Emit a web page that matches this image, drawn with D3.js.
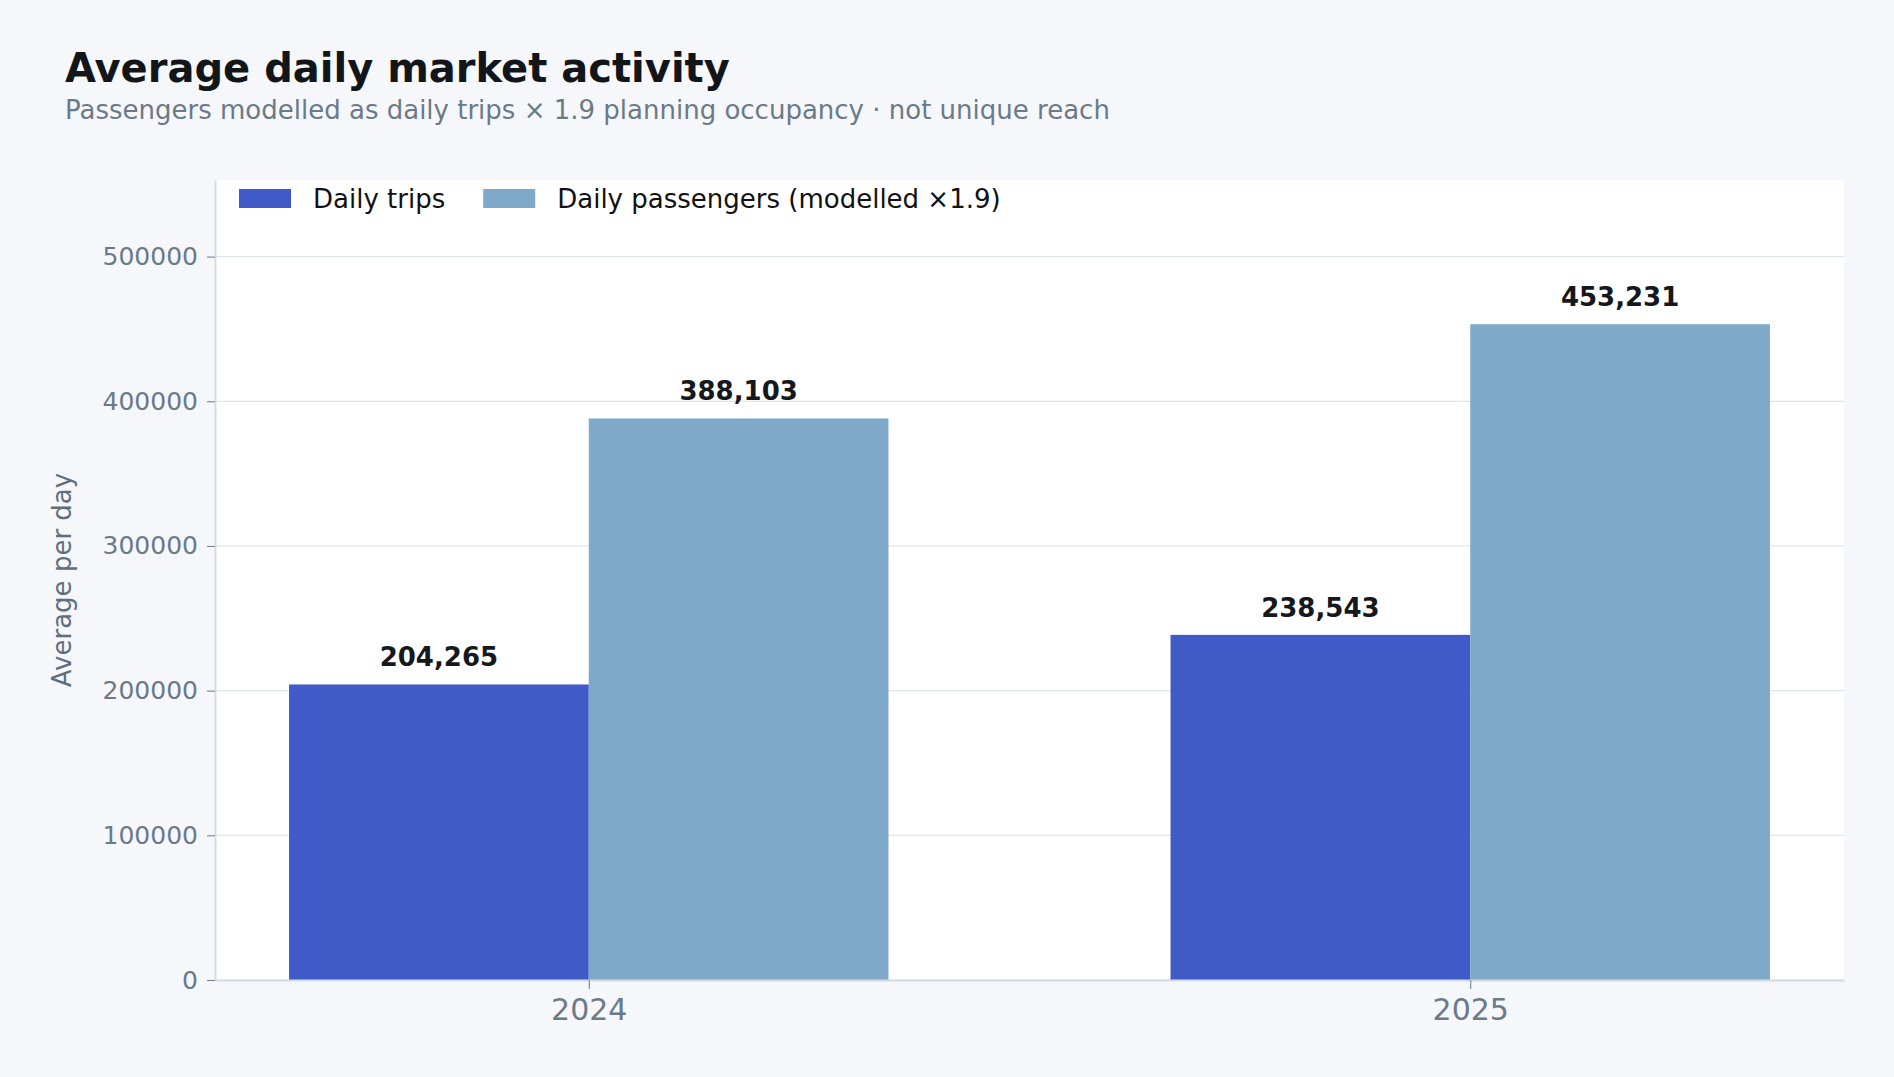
<!DOCTYPE html>
<html>
<head>
<meta charset="utf-8">
<script src="https://cdn.jsdelivr.net/npm/d3@7"></script>
<style>
  html, body { margin: 0; padding: 0; background: #f5f7fa; }
  svg { display: block; font-family: "DejaVu Sans", sans-serif; }
</style>
</head>
<body>
<div id="chart"></div>
<script>
// data
const years = ["2024", "2025"];
const seriesNames = ["Daily trips", "Daily passengers (modelled ×1.9)"];
const dailyTrips = [204265, 238543];
const dailyPassengers = [388103, 453231];
const yTicks = [0, 100000, 200000, 300000, 400000, 500000];

const colors = ["#405bc8", "#7ea9c8"];

const W = 1894, H = 1077;
const margin = { top: 180, right: 50, bottom: 97, left: 215 };
const width = W - margin.left - margin.right,
      height = H - margin.top - margin.bottom;

const svg = d3.select("#chart")
    .append("svg")
    .attr("width", W)
    .attr("height", H);

svg.append("rect").attr("width", W).attr("height", H).attr("fill", "#f5f7fa");

// title + subtitle
svg.append("text")
    .attr("x", 65).attr("y", 82)
    .attr("font-size", 40).attr("font-weight", "bold")
    .attr("fill", "#121519")
    .text("Average daily market activity");
svg.append("text")
    .attr("x", 65).attr("y", 119)
    .attr("font-size", 26)
    .attr("fill", "#6b7a88")
    .text("Passengers modelled as daily trips × 1.9 planning occupancy · not unique reach");

const g = svg.append("g")
    .attr("transform", `translate(${margin.left},${margin.top})`);

g.append("rect").attr("width", width).attr("height", height).attr("fill", "#ffffff");

// scales (bar width 0.34 in index units, 5% margins)
const barW = 0.34;
const x = d3.scaleLinear()
    .domain([-barW - 0.084, 1 + barW + 0.084])
    .range([0, width]);
const yMax = d3.max(dailyPassengers) * 1.22;
const y = d3.scaleLinear()
    .domain([0, yMax])
    .range([height, 0]);

// grid
g.append("g")
    .selectAll("line")
    .data(yTicks)
    .join("line")
    .attr("x1", 0).attr("x2", width)
    .attr("y1", d => y(d)).attr("y2", d => y(d))
    .attr("stroke", "#dfe5eb").attr("stroke-width", 1.2);

// bars
const series = [dailyTrips, dailyPassengers];
series.forEach((vals, s) => {
    g.append("g")
        .selectAll("rect")
        .data(vals)
        .join("rect")
        .attr("x", (d, i) => x(i - barW + s * barW))
        .attr("width", x(barW) - x(0))
        .attr("y", d => y(d))
        .attr("height", d => height - y(d))
        .attr("fill", colors[s]);

    g.append("g")
        .selectAll("text")
        .data(vals)
        .join("text")
        .attr("x", (d, i) => x(i - barW / 2 + s * barW))
        .attr("y", d => y(d) - 18)
        .attr("text-anchor", "middle")
        .attr("font-size", 26).attr("font-weight", "bold")
        .attr("fill", "#15181d")
        .text(d => d3.format(",")(d));
});

// axes
const yAxis = g.append("g")
    .call(d3.axisLeft(y).tickValues(yTicks).tickFormat(d => String(d))
        .tickSize(8).tickSizeOuter(0).tickPadding(9));
yAxis.select(".domain").attr("stroke", "#d3dce5").attr("stroke-width", 2);
yAxis.selectAll(".tick line").attr("stroke", "#6b7a88");
yAxis.selectAll(".tick text").attr("font-size", 25).attr("fill", "#6b7a88")
    .attr("font-family", "DejaVu Sans");

const xAxis = g.append("g")
    .attr("transform", `translate(0,${height})`)
    .call(d3.axisBottom(x).tickValues([0, 1]).tickFormat(i => years[i])
        .tickSize(9).tickSizeOuter(0).tickPadding(10));
xAxis.select(".domain").attr("stroke", "#d3dce5").attr("stroke-width", 2);
xAxis.selectAll(".tick line").attr("stroke", "#6b7a88");
xAxis.selectAll(".tick text").attr("font-size", 30).attr("fill", "#6b7a88")
    .attr("font-family", "DejaVu Sans");

// y label
svg.append("text")
    .attr("transform", `translate(71,${margin.top + height / 2}) rotate(-90)`)
    .attr("text-anchor", "middle")
    .attr("font-size", 26)
    .attr("fill", "#5f6e7c")
    .text("Average per day");

// legend
const legend = g.append("g").attr("transform", "translate(24,9)");
let lx = 0;
seriesNames.forEach((name, s) => {
    const item = legend.append("g").attr("transform", `translate(${lx},0)`);
    item.append("rect").attr("width", 52).attr("height", 19).attr("fill", colors[s]);
    const t = item.append("text")
        .attr("x", 74).attr("y", 19)
        .attr("font-size", 26).attr("fill", "#111")
        .text(name);
    lx += 74 + t.node().getComputedTextLength() + 38;
});
</script>
</body>
</html>
